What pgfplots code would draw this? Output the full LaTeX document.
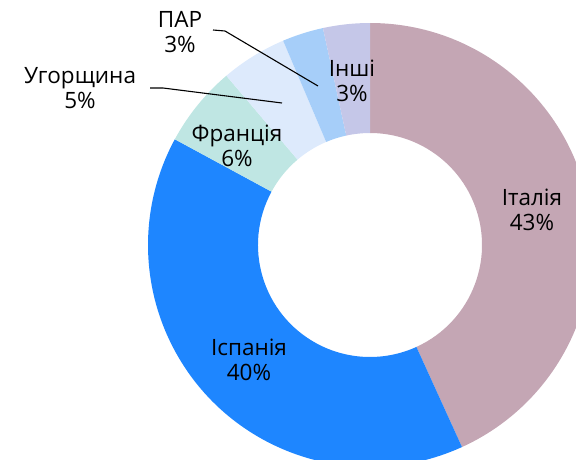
\documentclass[border=0pt]{standalone}
\usepackage{pgfplots}
\pgfplotsset{compat=1.18}
\usepackage{fontspec}
\setmainfont{Open Sans}
\definecolor{cIt}{HTML}{C4A6B4}
\definecolor{cEs}{HTML}{1E86FF}
\definecolor{cFr}{HTML}{BFE6E3}
\definecolor{cHu}{HTML}{DDEAFC}
\definecolor{cZa}{HTML}{A6CEF9}
\definecolor{cOt}{HTML}{C5C7E8}
\begin{document}
\begin{tikzpicture}
\begin{axis}[
  scale only axis, width=576pt, height=459pt,
  xmin=0, xmax=576, ymin=0, ymax=459,
  hide axis, clip=true,
]
\addplot[draw=none, forget plot] coordinates {(0,0) (576,459)};
\pgfplotsextra{
  \gdef\cum{0}
  \foreach \v/\c in {43.2/cIt, 39.7/cEs, 5.9/cFr, 4.8/cHu, 3.0/cZa, 3.4/cOt}{
    \pgfmathsetmacro\aS{90-3.6*\cum}
    \pgfmathsetmacro\newcum{\cum+\v}
    \xdef\cum{\newcum}
    \pgfmathsetmacro\aE{90-3.6*\cum}
    \fill[\c, shift={(axis cs:370,214)}] (\aS:222pt) arc[start angle=\aS, end angle=\aE, radius=222pt]
      -- (\aE:112pt) arc[start angle=\aE, end angle=\aS, radius=112pt] -- cycle;
  }
  \draw[black, line width=1.1pt] (axis cs:213,429) -- (axis cs:225,428) -- (axis cs:318,373);
  \draw[black, line width=1.1pt] (axis cs:150,371) -- (axis cs:163,371) -- (axis cs:282,356);
}
\begin{scope}[every node/.style={align=center, font=\fontsize{22.5}{24.5}\selectfont, text=black, inner sep=0pt}]
\node at (axis cs:532,249) {Італія\\43\%};
\node at (axis cs:249,99) {Іспанія\\40\%};
\node at (axis cs:237,313) {Франція\\6\%};
\node at (axis cs:352,378) {Інші\\3\%};
\node at (axis cs:80,371) {Угорщина\\5\%};
\node at (axis cs:180,427) {ПАР\\3\%};
\end{scope}
\end{axis}
\pgfresetboundingbox
\path[use as bounding box] (current axis.south west) rectangle (current axis.north east);
\end{tikzpicture}
\end{document}
